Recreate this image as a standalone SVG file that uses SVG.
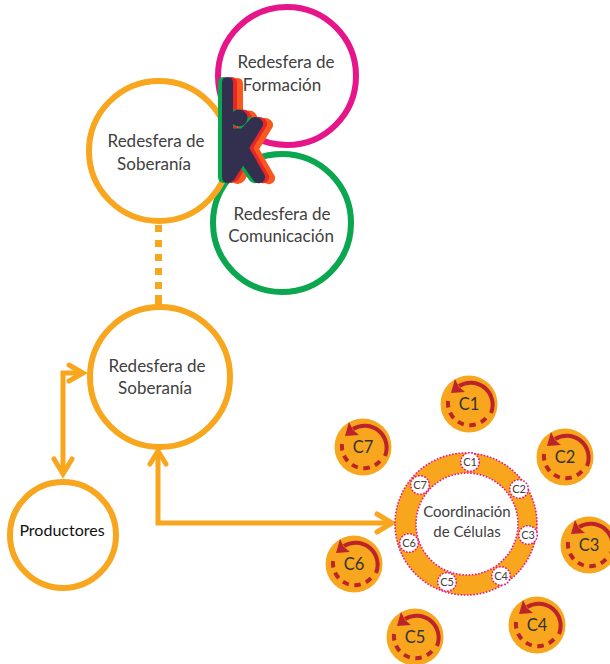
<svg xmlns="http://www.w3.org/2000/svg" width="610" height="664" viewBox="0 0 610 664">
<style>
text{font-family:Lato,"Liberation Sans",sans-serif;fill:#404040;text-anchor:middle}
.big{font-size:17px}
.sph{fill:#fff;stroke-width:6}
.or{stroke:#f9a61f}
.con{fill:none;stroke:#f9a61f;stroke-width:5;stroke-linejoin:miter}
.cell{fill:#f9a61f}
.cl{font-size:16.5px;fill:#333}
.sl{font-size:11px;fill:#404040}
.dot{fill:#fff;stroke:#e6168a;stroke-width:1.6;stroke-dasharray:1.6 1.6}
</style>
<defs>
<g id="spin" fill="none" stroke="#bd2429" stroke-width="4">
<path d="M22 9A22 22 0 0 0 -10 -18"/>
<path d="M-21 -3A22 22 0 0 0 18 13" stroke-dasharray="6.5 5.5"/>
<path d="M-14 -25L-18 -11L-4 -12L-10 -17Z" stroke="none" fill="#bd2429"/>
</g>
<g id="figh" stroke-width="3" stroke-linejoin="round">
<path d="M223.500 83Q223.500 78.500 227.500 78.500Q231.500 78.500 231.500 83V130H242L252 119.500Q256 117 260 120.500Q262.500 123 261 126L247.500 148L263.500 176Q264 180 260 181.500Q256.500 182.500 254.500 179.500L243 163L233 179Q230 182 227 181.500Q223.500 181 223.500 177Z"/>
<circle cx="239" cy="118" r="7"/>
</g>
</defs>
<g id="node-formacion"><circle class="sph" cx="287" cy="76" r="69" stroke="#e6168a"/><text class="big" x="286" y="68">Redesfera de</text><text class="big" x="282" y="91">Formación</text></g>
<g id="node-comunicacion"><circle class="sph" cx="282" cy="223" r="69" stroke="#0aa650"/><text class="big" x="282" y="220">Redesfera de</text><text class="big" x="281" y="242">Comunicación</text></g>
<g id="node-soberania-top"><circle class="sph or" cx="159" cy="151" r="70"/><text class="big" x="156" y="147">Redesfera de</text><text class="big" x="154" y="170">Soberanía</text></g>
<g id="node-soberania-bottom"><circle class="sph or" cx="160" cy="377" r="70"/><text class="big" x="157" y="372">Redesfera de</text><text class="big" x="155" y="394">Soberanía</text></g>
<g id="node-productores"><circle class="sph or" cx="63" cy="535" r="53"/><text x="62" y="536" font-size="16" style="fill:#111">Productores</text></g>
<g id="connectors">
<path d="M158.500 225V232M158.500 240V247M158.500 254V261M158.500 268V275M158.500 282V289M158.500 295V306" fill="none" stroke="#f9a61f" stroke-width="7"/>
<path class="con" d="M63 474V373H83"/>
<path class="con" stroke-linecap="round" d="M69 365L83 373L69 381M54 459L63 474L72 459"/>
<path class="con" d="M158 451V523H390"/>
<path class="con" stroke-linecap="round" d="M150 464L158 451L166 464"/>
<path class="con" stroke-linecap="round" stroke-width="6" d="M377 514L392 523L377 532"/>
</g>
<g id="node-coordinacion">
<path d="M466 453a71 71 0 1 0 .01 0ZM467 473a51 51 0 1 1 -.01 0Z" fill="#f9a61f" fill-rule="evenodd"/>
<circle cx="466" cy="524" r="71" fill="none" stroke="#e6168a" stroke-width="1.600" stroke-dasharray="1.600 1.600"/>
<circle cx="467" cy="524" r="51" fill="#fff" stroke="#e6168a" stroke-width="1.600" stroke-dasharray="1.600 1.600"/>
<text x="467" y="517" font-size="15">Coordinación</text><text x="467" y="537" font-size="15">de Células</text>
<circle class="dot" cx="470" cy="462" r="9.300"/><text class="sl" x="470" y="466">C1</text>
<circle class="dot" cx="519" cy="489" r="9.300"/><text class="sl" x="519" y="493">C2</text>
<circle class="dot" cx="528" cy="535" r="9.300"/><text class="sl" x="528" y="539">C3</text>
<circle class="dot" cx="501" cy="576" r="9.300"/><text class="sl" x="501" y="580">C4</text>
<circle class="dot" cx="447" cy="582" r="9.300"/><text class="sl" x="447" y="586">C5</text>
<circle class="dot" cx="409" cy="543" r="9.300"/><text class="sl" x="409" y="547">C6</text>
<circle class="dot" cx="420" cy="485" r="9.300"/><text class="sl" x="420" y="489">C7</text>
</g>
<g id="node-c1"><circle class="cell" cx="469" cy="404" r="28.500"/><use href="#spin" x="469" y="404"/><text class="cl" x="469" y="410">C1</text></g>
<g id="node-c2"><circle class="cell" cx="565" cy="457" r="28.500"/><use href="#spin" x="565" y="457"/><text class="cl" x="565" y="463">C2</text></g>
<g id="node-c3"><circle class="cell" cx="589" cy="545" r="28.500"/><use href="#spin" x="589" y="545"/><text class="cl" x="589" y="551">C3</text></g>
<g id="node-c4"><circle class="cell" cx="537" cy="625" r="28.500"/><use href="#spin" x="537" y="625"/><text class="cl" x="537" y="631">C4</text></g>
<g id="node-c5"><circle class="cell" cx="415" cy="637" r="28.500"/><use href="#spin" x="415" y="637"/><text class="cl" x="415" y="643">C5</text></g>
<g id="node-c6"><circle class="cell" cx="354" cy="564" r="28.500"/><use href="#spin" x="354" y="564"/><text class="cl" x="354" y="570">C6</text></g>
<g id="node-c7"><circle class="cell" cx="363" cy="447" r="28.500"/><use href="#spin" x="363" y="447"/><text class="cl" x="363" y="453">C7</text></g>
<g id="icon-top">
<use href="#figh" transform="translate(10 1)" stroke="#f9591f" fill="#f9591f"/>
<use href="#figh" transform="translate(4 0)" stroke="#e8262a" fill="#e8262a"/>
<use href="#figh" transform="translate(-4 0)" stroke="#0aa650" fill="#0aa650"/>
<use href="#figh" stroke="#33304f" fill="#33304f"/>
</g>
</svg>
